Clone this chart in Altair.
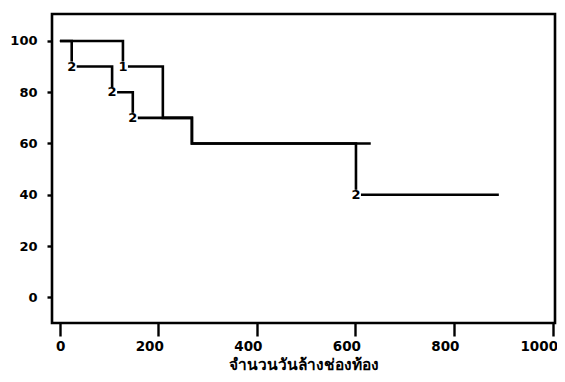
import altair as alt
import pandas as pd

# Curve 1 (step points)
c1_x = [0, 128, 209, 268, 631]
c1_y = [100, 90, 70, 60, 60]
# Curve 2 (step points)
c2_x = [0, 24, 106, 148, 268, 601, 891]
c2_y = [100, 90, 80, 70, 60, 40, 40]

# Event labels
lab_x = [128, 24, 106, 148, 601]
lab_y = [90, 90, 80, 70, 40]
lab_t = ["1", "2", "2", "2", "2"]

x_ticks = [0, 200, 400, 600, 800, 1000]
y_ticks = [0, 20, 40, 60, 80, 100]
x_title = "จำนวนวันล้างช่องท้อง"

lines = pd.DataFrame({
    "x": c1_x + c2_x,
    "y": c1_y + c2_y,
    "g": ["1"] * len(c1_x) + ["2"] * len(c2_x),
    "o": list(range(len(c1_x))) + list(range(len(c2_x))),
})
labels = pd.DataFrame({"x": lab_x, "y": lab_y, "t": lab_t})

FONT = "DejaVu Sans"

xs = alt.Scale(domain=[-16, 1005], nice=False, zero=False)
ys = alt.Scale(domain=[-10, 110.5], nice=False, zero=False)

xax = alt.Axis(values=x_ticks, title=x_title, domain=False, grid=False,
               format="d",
               tickSize=13, tickWidth=2.4, tickColor="black",
               labelFont=FONT, labelFontWeight="bold", labelFontSize=13.5,
               labelColor="black", labelPadding=3, labelAlign="right",
               labelOffset=5,
               titleFont=FONT, titleFontWeight="bold", titleFontSize=15.5,
               titleColor="black", titleY=46, titleBaseline="alphabetic")
yax = alt.Axis(values=y_ticks, title=None, domain=False, grid=False,
               tickSize=5, tickWidth=2.4, tickColor="black",
               labelFont=FONT, labelFontWeight="bold", labelFontSize=13,
               labelColor="black", labelPadding=10)

line = alt.Chart(lines).mark_line(interpolate="step-after", color="black",
                                  strokeWidth=2.6).encode(
    x=alt.X("x:Q", scale=xs, axis=xax),
    y=alt.Y("y:Q", scale=ys, axis=yax),
    detail="g:N",
    order="o:Q",
)

bg = alt.Chart(labels).mark_point(shape="square", filled=True, color="white",
                                   size=100, opacity=1).encode(
    x=alt.X("x:Q", scale=xs), y=alt.Y("y:Q", scale=ys))

txt = alt.Chart(labels).mark_text(font=FONT, fontWeight="bold", fontSize=13,
                                  color="black", align="center",
                                  baseline="middle").encode(
    x=alt.X("x:Q", scale=xs), y=alt.Y("y:Q", scale=ys), text="t:N")

chart = alt.layer(line, bg, txt).properties(
    width=503, height=309,
    autosize=alt.AutoSizeParams(type="none"),
    padding={"left": 44, "top": 6, "right": 2, "bottom": 51},
    background="white",
).configure_view(stroke="black", strokeWidth=2.6)

chart.save("out.html", embed_options={"renderer": "svg", "actions": False})
